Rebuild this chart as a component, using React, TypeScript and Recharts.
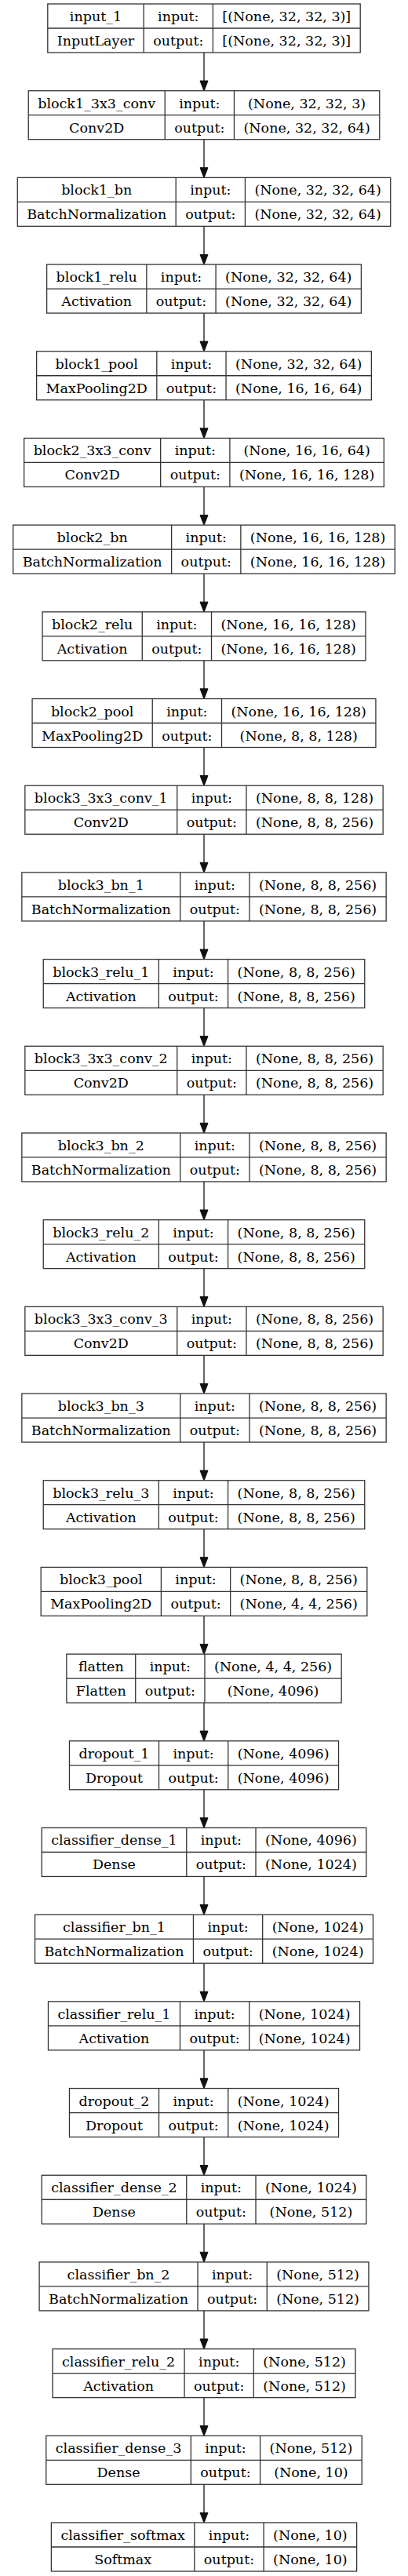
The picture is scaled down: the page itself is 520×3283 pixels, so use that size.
import { ScatterChart, Scatter, XAxis, YAxis } from "recharts";

const names = ["input_1", "block1_3x3_conv", "block1_bn", "block1_relu", "block1_pool", "block2_3x3_conv", "block2_bn", "block2_relu", "block2_pool", "block3_3x3_conv_1", "block3_bn_1", "block3_relu_1", "block3_3x3_conv_2", "block3_bn_2", "block3_relu_2", "block3_3x3_conv_3", "block3_bn_3", "block3_relu_3", "block3_pool", "flatten", "dropout_1", "classifier_dense_1", "classifier_bn_1", "classifier_relu_1", "dropout_2", "classifier_dense_2", "classifier_bn_2", "classifier_relu_2", "classifier_dense_3", "classifier_softmax"];
const types = ["InputLayer", "Conv2D", "BatchNormalization", "Activation", "MaxPooling2D", "Conv2D", "BatchNormalization", "Activation", "MaxPooling2D", "Conv2D", "BatchNormalization", "Activation", "Conv2D", "BatchNormalization", "Activation", "Conv2D", "BatchNormalization", "Activation", "MaxPooling2D", "Flatten", "Dropout", "Dense", "BatchNormalization", "Activation", "Dropout", "Dense", "BatchNormalization", "Activation", "Dense", "Softmax"];
const inputs = ["[(None, 32, 32, 3)]", "(None, 32, 32, 3)", "(None, 32, 32, 64)", "(None, 32, 32, 64)", "(None, 32, 32, 64)", "(None, 16, 16, 64)", "(None, 16, 16, 128)", "(None, 16, 16, 128)", "(None, 16, 16, 128)", "(None, 8, 8, 128)", "(None, 8, 8, 256)", "(None, 8, 8, 256)", "(None, 8, 8, 256)", "(None, 8, 8, 256)", "(None, 8, 8, 256)", "(None, 8, 8, 256)", "(None, 8, 8, 256)", "(None, 8, 8, 256)", "(None, 8, 8, 256)", "(None, 4, 4, 256)", "(None, 4096)", "(None, 4096)", "(None, 1024)", "(None, 1024)", "(None, 1024)", "(None, 1024)", "(None, 512)", "(None, 512)", "(None, 512)", "(None, 10)"];
const outputs = ["[(None, 32, 32, 3)]", "(None, 32, 32, 64)", "(None, 32, 32, 64)", "(None, 32, 32, 64)", "(None, 16, 16, 64)", "(None, 16, 16, 128)", "(None, 16, 16, 128)", "(None, 16, 16, 128)", "(None, 8, 8, 128)", "(None, 8, 8, 256)", "(None, 8, 8, 256)", "(None, 8, 8, 256)", "(None, 8, 8, 256)", "(None, 8, 8, 256)", "(None, 8, 8, 256)", "(None, 8, 8, 256)", "(None, 8, 8, 256)", "(None, 8, 8, 256)", "(None, 4, 4, 256)", "(None, 4096)", "(None, 4096)", "(None, 1024)", "(None, 1024)", "(None, 1024)", "(None, 1024)", "(None, 512)", "(None, 512)", "(None, 512)", "(None, 10)", "(None, 10)"];

const data = names.map((name, i) => ({ x: 0.5, y: i, name, type: types[i], inp: inputs[i], out: outputs[i] }));

const FONT = "DejaVu Serif, serif";
const FS = 17.5;
const ctx = typeof document !== "undefined" ? document.createElement("canvas").getContext("2d") : null;
function tw(s: string) {
  if (!ctx) return s.length * 10;
  ctx.font = `${FS}px ${FONT}`;
  return ctx.measureText(s).width;
}

const PAD = 12;
const ROW = 31;
const LINE = "#333";

function LayerBox(props: any) {
  const { cx, cy, payload } = props;
  const w1 = Math.max(tw(payload.name), tw(payload.type)) + 2 * PAD;
  const w2 = tw("output:") + 2 * PAD;
  const w3 = Math.max(tw(payload.inp), tw(payload.out)) + 2 * PAD;
  const total = w1 + w2 + w3;
  const left = cx - total / 2;
  const top = cy - ROW;
  const cols = [left + w1 / 2, left + w1 + w2 / 2, left + w1 + w2 + w3 / 2];
  const last = payload.y === names.length - 1;
  const arrowEnd = cy + 80;
  const txt = (x: number, y: number, s: string) => (
    <text x={x} y={y} textAnchor="middle" fontFamily={FONT} fontSize={FS} fill="#000">{s}</text>
  );
  return (
    <g>
      <rect x={left} y={top} width={total} height={2 * ROW} fill="#fff" stroke={LINE} strokeWidth={1.3} />
      <line x1={left} x2={left + total} y1={cy} y2={cy} stroke={LINE} strokeWidth={1.3} />
      <line x1={left + w1} x2={left + w1} y1={top} y2={cy + ROW} stroke={LINE} strokeWidth={1.3} />
      <line x1={left + w1 + w2} x2={left + w1 + w2} y1={top} y2={cy + ROW} stroke={LINE} strokeWidth={1.3} />
      {txt(cols[0], cy - 9, payload.name)}
      {txt(cols[0], cy + 22, payload.type)}
      {txt(cols[1], cy - 9, "input:")}
      {txt(cols[1], cy + 22, "output:")}
      {txt(cols[2], cy - 9, payload.inp)}
      {txt(cols[2], cy + 22, payload.out)}
      {!last && (
        <g>
          <line x1={cx} x2={cx} y1={cy + ROW} y2={arrowEnd - 12} stroke={LINE} strokeWidth={1.5} />
          <polygon points={`${cx - 5},${arrowEnd - 13} ${cx + 5},${arrowEnd - 13} ${cx},${arrowEnd}`} fill="#111" stroke="#111" />
        </g>
      )}
    </g>
  );
}

export default function App() {
  return (
    <div style={{ position: "absolute", left: 0, top: 0, background: "#fff" }}>
      <ScatterChart width={520} height={3283} margin={{ top: 36, bottom: 37, left: 0, right: 0 }}>
        <XAxis type="number" dataKey="x" domain={[0, 1]} hide />
        <YAxis type="number" dataKey="y" domain={[0, names.length - 1]} reversed hide />
        <Scatter data={data} shape={<LayerBox />} isAnimationActive={false} />
      </ScatterChart>
    </div>
  );
}
